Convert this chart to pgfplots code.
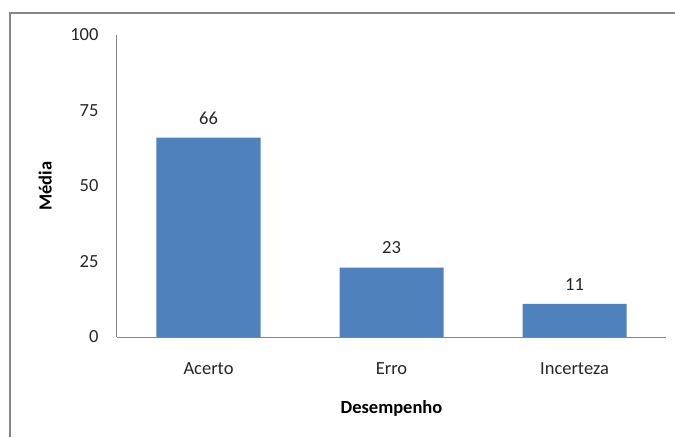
\documentclass[border=0pt]{standalone}
\usepackage{fontspec}
\setmainfont{Carlito}
\usepackage{pgfplots}
\pgfplotsset{compat=1.18}
\definecolor{barblue}{HTML}{4F81BD}
\definecolor{axisgray}{HTML}{868686}
\begin{document}
\begin{tikzpicture}[x=1pt,y=1pt]
\path[use as bounding box] (0,0) rectangle (675,437);
\draw[axisgray, line width=1.2pt] (10,0) -- (10,424) -- (675,424);
\begin{axis}[
  at={(117pt,100pt)}, anchor=south west,
  scale only axis,
  width=549pt, height=302pt,
  xmin=-0.5, xmax=2.5,
  ymin=0, ymax=100,
  axis lines=left,
  axis line style={axisgray, line width=1pt, -},
  ytick={0,25,50,75,100},
  xtick=data,
  xticklabels={Acerto,Erro,Incerteza},
  major tick length=0pt,
  /pgf/number format/assume math mode=true,
  tick label style={font=\fontsize{18.5}{21}\selectfont, text=black!85},
  yticklabel style={xshift=-15pt},
  xticklabel style={yshift=-22pt},
  ylabel={\bfseries Média},
  xlabel={\bfseries Desempenho},
  label style={font=\fontsize{18.5}{21}\selectfont},
  ylabel style={at={(axis description cs:-0.131,0.5)}, anchor=center},
  xlabel style={at={(axis description cs:0.5,-0.238)}, anchor=center},
  clip=false,
]
\addplot[ybar, bar width=104pt, fill=barblue, draw=none,
  nodes near coords,
  every node near coord/.append style={font=\fontsize{18.5}{21}\selectfont, text=black!85, yshift=10pt}]
  coordinates {(0,66) (1,23) (2,11)};
\end{axis}
\end{tikzpicture}
\end{document}
